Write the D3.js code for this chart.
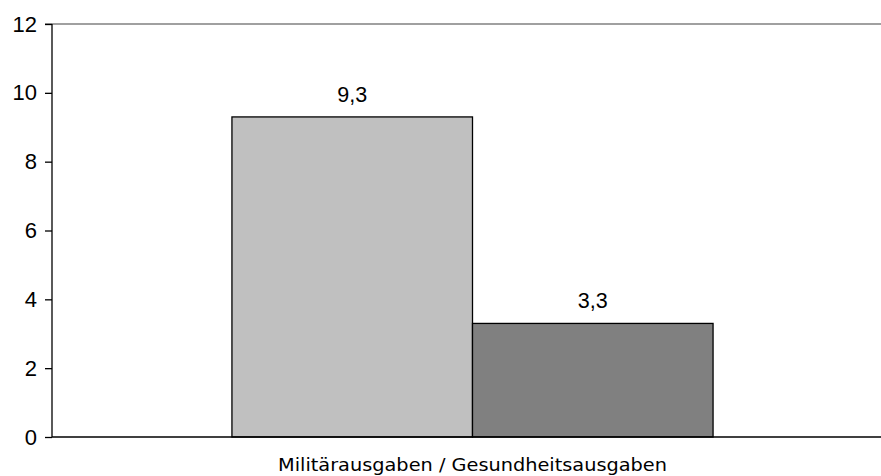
<!DOCTYPE html>
<html><head><meta charset="utf-8">
<script src="https://cdn.jsdelivr.net/npm/d3@7"></script>
<style>body{margin:0;background:#fff}svg{display:block}</style>
</head><body>
<svg id="c" width="881" height="476"></svg>
<script>
const categories = ["Militärausgaben / Gesundheitsausgaben"];
const series = ["Militärausgaben", "Gesundheitsausgaben"];
const values = [9.3, 3.3];
const valueLabels = ["9,3", "3,3"];
const yTicks = [0, 2, 4, 6, 8, 10, 12];
const colors = ["#c0c0c0", "#808080"];

const svg = d3.select("#c");
const mLeft = 52, mRight = 893, mTop = 24, mBottom = 437;

const y = d3.scaleLinear().domain([0, 12]).range([mBottom, mTop]);
const x0 = d3.scaleBand().domain(categories).range([mLeft, mRight]).paddingInner(0).paddingOuter(0.374);
const x1 = d3.scaleBand().domain(series).range([0, x0.bandwidth()]).padding(0);

// top gridline
svg.append("line").attr("x1", 45).attr("x2", 881).attr("y1", y(12)).attr("y2", y(12))
  .attr("stroke", "#808080").attr("stroke-width", 1.5);

// bars
const g = svg.append("g");
series.forEach((s, i) => {
  g.append("rect")
    .attr("x", x0(categories[0]) + x1(s))
    .attr("y", y(values[i]))
    .attr("width", x1.bandwidth())
    .attr("height", y(0) - y(values[i]))
    .attr("fill", colors[i]).attr("stroke", "#000").attr("stroke-width", 1.3);
  g.append("text")
    .attr("x", x0(categories[0]) + x1(s) + x1.bandwidth() / 2)
    .attr("y", y(values[i]) - 15)
    .attr("text-anchor", "middle")
    .style("font-family", "'Liberation Sans', Arial, sans-serif")
    .style("font-size", "21.5px")
    .text(valueLabels[i]);
});

// y axis
const yAxis = d3.axisLeft(y).tickValues(yTicks).tickSize(7).tickPadding(8).tickFormat(d3.format("d"));
const ya = svg.append("g").attr("transform", `translate(${mLeft},0)`).call(yAxis);
ya.select(".domain").attr("stroke", "#000").attr("stroke-width", 1.3).attr("d", `M0,${mTop}V${mBottom}`);
ya.selectAll(".tick line").attr("stroke", "#000").attr("stroke-width", 1.3);
ya.selectAll(".tick text").style("font-family", "'Liberation Sans', Arial, sans-serif").style("font-size", "22px").attr("fill", "#000");

// x axis
const xAxis = d3.axisBottom(x0).tickSize(0).tickPadding(22);
const xa = svg.append("g").attr("transform", `translate(0,${mBottom})`).call(xAxis);
xa.select(".domain").attr("stroke", "#000").attr("stroke-width", 1.3).attr("d", `M${mLeft},0H881`);
xa.selectAll(".tick text").attr("dy", null).attr("y", 34)
  .style("font-family", "'DejaVu Sans', sans-serif").style("font-size", "17.5px")
  .attr("textLength", 389).attr("lengthAdjust", "spacingAndGlyphs").attr("fill", "#000");
</script>
</body></html>
